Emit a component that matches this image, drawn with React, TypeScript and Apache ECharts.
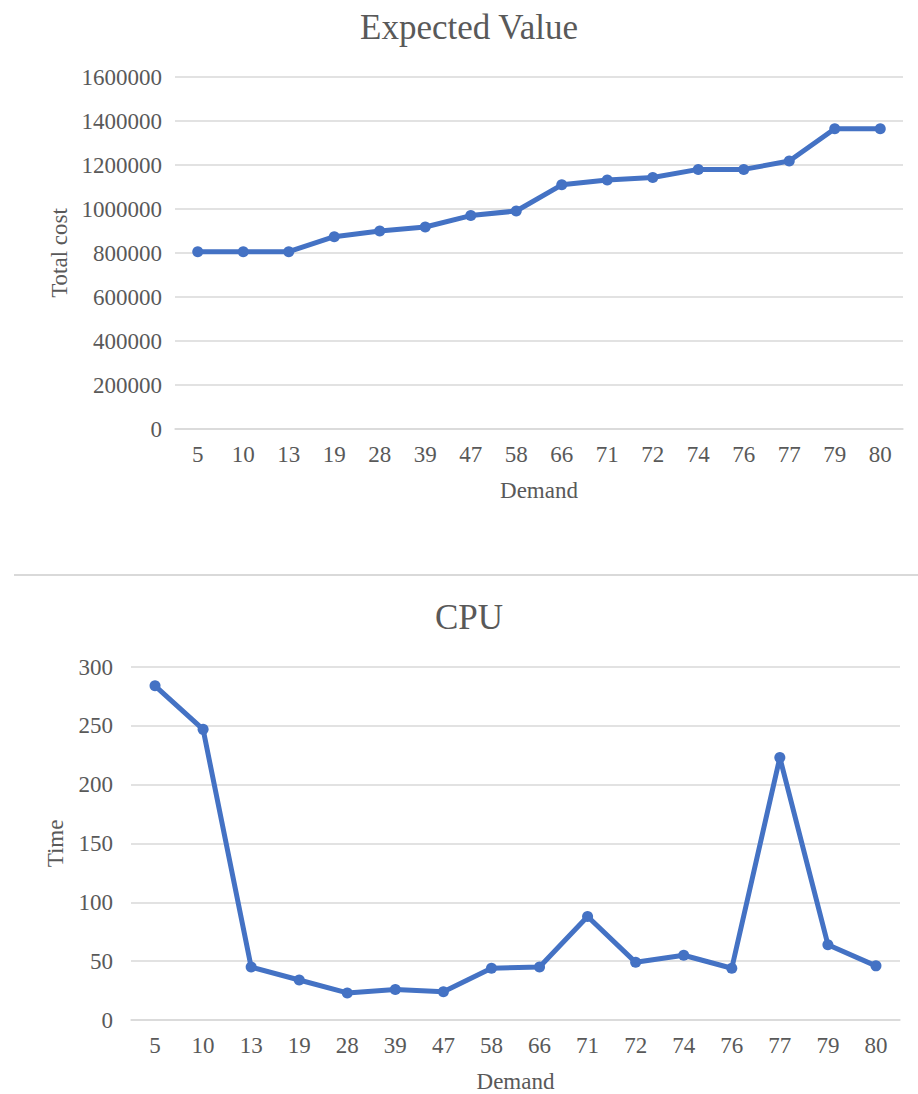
import React, { useEffect, useRef } from "react";
import * as echarts from "echarts";

const demand = ["5", "10", "13", "19", "28", "39", "47", "58", "66", "71", "72", "74", "76", "77", "79", "80"];
const totalCost = [806000, 806000, 806000, 874000, 900000, 918000, 970000, 991000, 1110000, 1132000, 1143000, 1180000, 1180000, 1218000, 1365000, 1365000];
const cpuTime = [284, 247, 45, 34, 23, 26, 24, 44, 45, 88, 49, 55, 44, 223, 64, 46];

const FONT = "'Liberation Serif', 'Times New Roman', serif";
const TXT = "#595959";
const GRID = "#d9d9d9";
const BLUE = "#4472C4";

export default function App() {
  const ref = useRef<HTMLDivElement>(null);
  useEffect(() => {
    document.body.style.margin = "0";
    const chart = echarts.init(ref.current!, null, { renderer: "svg" });
    const xAxisCommon = {
      type: "category" as const,
      data: demand,
      axisTick: { show: false },
      axisLine: { lineStyle: { color: GRID, width: 1.5 } },
      axisLabel: { color: TXT, fontFamily: FONT, fontSize: 23, margin: 14 },
      name: "Demand",
      nameLocation: "middle" as const,
      nameTextStyle: { color: TXT, fontFamily: FONT, fontSize: 23 },
      nameGap: 50,
    };
    const yAxisCommon = {
      type: "value" as const,
      nameLocation: "middle" as const,
      nameTextStyle: { color: TXT, fontFamily: FONT, fontSize: 23 },
      axisLine: { show: false },
      axisTick: { show: false },
      splitLine: { lineStyle: { color: GRID, width: 1.5 } },
    };
    const plain = (v: number) => String(v);
    const titleStyle = { fill: TXT, font: `35px ${FONT}`, textAlign: "center", textVerticalAlign: "middle" };
    chart.setOption({
      animation: false,
      grid: [
        { left: 175, right: 15, top: 77, bottom: 665 },
        { left: 131, right: 18, top: 667, bottom: 74 },
      ],
      xAxis: [
        { ...xAxisCommon, gridIndex: 0 },
        { ...xAxisCommon, gridIndex: 1 },
      ],
      yAxis: [
        {
          ...yAxisCommon,
          gridIndex: 0,
          min: 0,
          max: 1600000,
          interval: 200000,
          name: "Total cost",
          nameGap: 100,
          axisLabel: { color: TXT, fontFamily: FONT, fontSize: 23, margin: 13, formatter: plain },
        },
        {
          ...yAxisCommon,
          gridIndex: 1,
          min: 0,
          max: 300,
          interval: 50,
          name: "Time",
          nameGap: 64,
          axisLabel: { color: TXT, fontFamily: FONT, fontSize: 23, margin: 18, formatter: plain },
        },
      ],
      series: [
        {
          type: "line",
          xAxisIndex: 0,
          yAxisIndex: 0,
          data: totalCost,
          symbol: "circle",
          symbolSize: 11,
          lineStyle: { color: BLUE, width: 5 },
          itemStyle: { color: BLUE },
        },
        {
          type: "line",
          xAxisIndex: 1,
          yAxisIndex: 1,
          data: cpuTime,
          symbol: "circle",
          symbolSize: 11,
          lineStyle: { color: BLUE, width: 5 },
          itemStyle: { color: BLUE },
        },
      ],
      graphic: [
        { type: "text", x: 469, y: 27, style: { ...titleStyle, text: "Expected Value" } },
        { type: "text", x: 469, y: 617, style: { ...titleStyle, text: "CPU" } },
        { type: "line", shape: { x1: 14, y1: 575, x2: 918, y2: 575 }, style: { stroke: GRID, lineWidth: 2 } },
      ],
    });
    return () => chart.dispose();
  }, []);
  return <div ref={ref} style={{ width: 918, height: 1094 }} />;
}
